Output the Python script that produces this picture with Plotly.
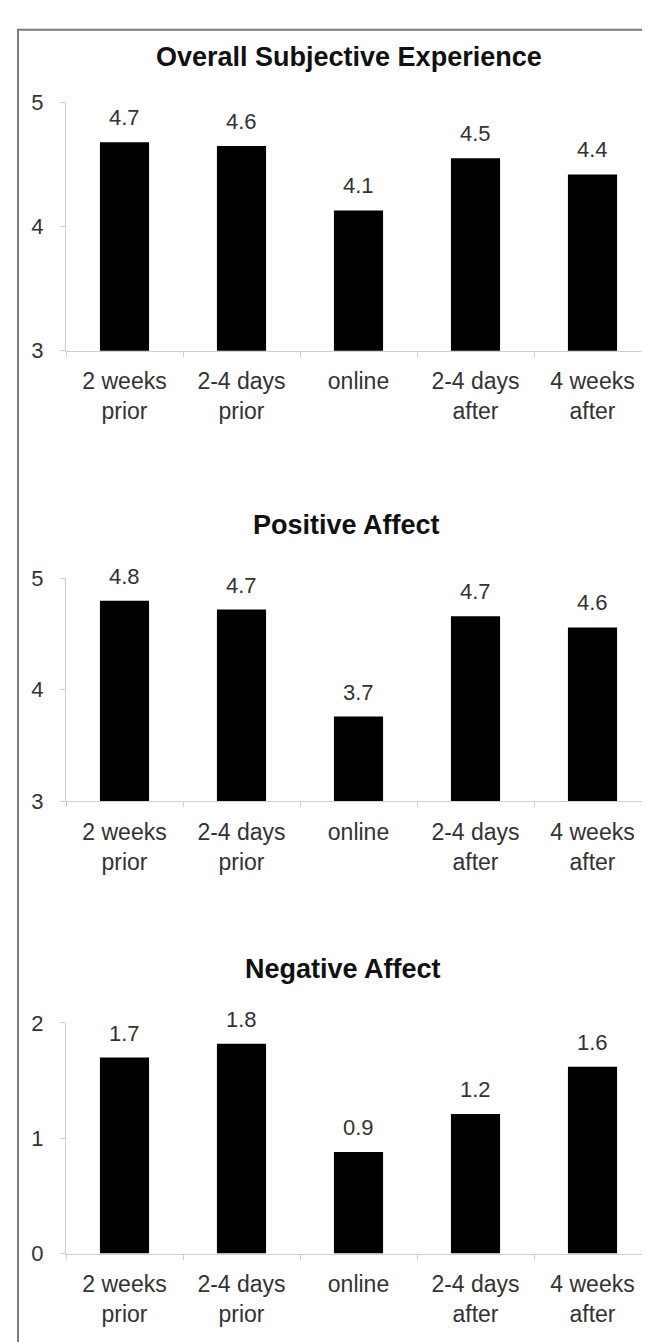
import plotly.graph_objects as go

categories = ["2 weeks<br>prior", "2-4 days<br>prior", "online", "2-4 days<br>after", "4 weeks<br>after"]

overall_values = [4.68, 4.65, 4.13, 4.55, 4.42]
overall_labels = ["4.7", "4.6", "4.1", "4.5", "4.4"]

positive_values = [4.80, 4.72, 3.76, 4.66, 4.56]
positive_labels = ["4.8", "4.7", "3.7", "4.7", "4.6"]

negative_values = [1.70, 1.82, 0.88, 1.21, 1.62]
negative_labels = ["1.7", "1.8", "0.9", "1.2", "1.6"]

titles = ["Overall Subjective Experience", "Positive Affect", "Negative Affect"]
y_ranges = [[3, 5], [3, 5], [0, 2]]
y_ticks = [[3, 4, 5], [3, 4, 5], [0, 1, 2]]

W, H = 650, 1342
FONT = "Liberation Sans, Arial, sans-serif"
TXT = "#333333"
AX = "#cfcfcf"

# pixel layout (top, bottom) of each plot area
panels_px = [(84, 337), (569, 796), (1022, 1257)]
title_px = [(341, 38), (338, 515), (335, 967)]
x_left, x_right = 58, 643

fig = go.Figure()
series = [(overall_values, overall_labels), (positive_values, positive_labels), (negative_values, negative_labels)]

for i, (vals, labs) in enumerate(series):
    xa = "x" if i == 0 else f"x{i+1}"
    ya = "y" if i == 0 else f"y{i+1}"
    fig.add_trace(go.Bar(
        x=categories, y=vals,
        marker=dict(color="black", line=dict(width=0)),
        cliponaxis=False, xaxis=xa, yaxis=ya, showlegend=False,
        hoverinfo="skip",
    ))
    for c, v, t in zip(categories, vals, labs):
        fig.add_annotation(
            x=c, y=v, xref=xa, yref=ya, text=t, showarrow=False,
            yanchor="bottom", xanchor="center", yshift=10,
            font=dict(size=22, color=TXT, family=FONT),
        )
    top, bot = panels_px[i]
    dom_y = [1 - bot / H, 1 - top / H]
    xkey = "xaxis" if i == 0 else f"xaxis{i+1}"
    ykey = "yaxis" if i == 0 else f"yaxis{i+1}"
    fig.layout[xkey] = dict(
        domain=[x_left / W, x_right / W], anchor=ya, type="category",
        showline=True, linecolor=AX, linewidth=1,
        ticks="outside", tickson="boundaries", ticklen=5, tickcolor=AX,
        ticklabelstandoff=10,
        tickfont=dict(size=23, color=TXT, family=FONT),
        showgrid=False, zeroline=False, fixedrange=True,
    )
    fig.layout[ykey] = dict(
        domain=dom_y, anchor=xa, range=y_ranges[i], tickvals=y_ticks[i],
        showline=True, linecolor=AX, linewidth=1,
        ticks="outside", ticklen=5, tickcolor=AX,
        ticklabelstandoff=12,
        tickfont=dict(size=22, color=TXT, family=FONT),
        showgrid=False, zeroline=False, fixedrange=True,
    )
    tx, ty = title_px[i]
    fig.add_annotation(
        text="<b>" + titles[i] + "</b>", xref="paper", yref="paper",
        x=tx / W, y=1 - ty / H, xanchor="center", yanchor="middle",
        showarrow=False, font=dict(size=27, color="#111111", family=FONT),
    )

# outer frame (left and top edges)
fig.add_shape(type="path", xref="paper", yref="paper",
              path=f"M {10/W} -0.1 L {10/W} {1-10/H} L 1.1 {1-10/H}",
              line=dict(color="#7a7a7a", width=2))

fig.update_layout(
    width=W, height=H, margin=dict(l=0, r=0, t=0, b=0),
    paper_bgcolor="white", plot_bgcolor="white",
    bargap=0.58, font=dict(family=FONT, color=TXT),
)

fig.write_html("out.html")
